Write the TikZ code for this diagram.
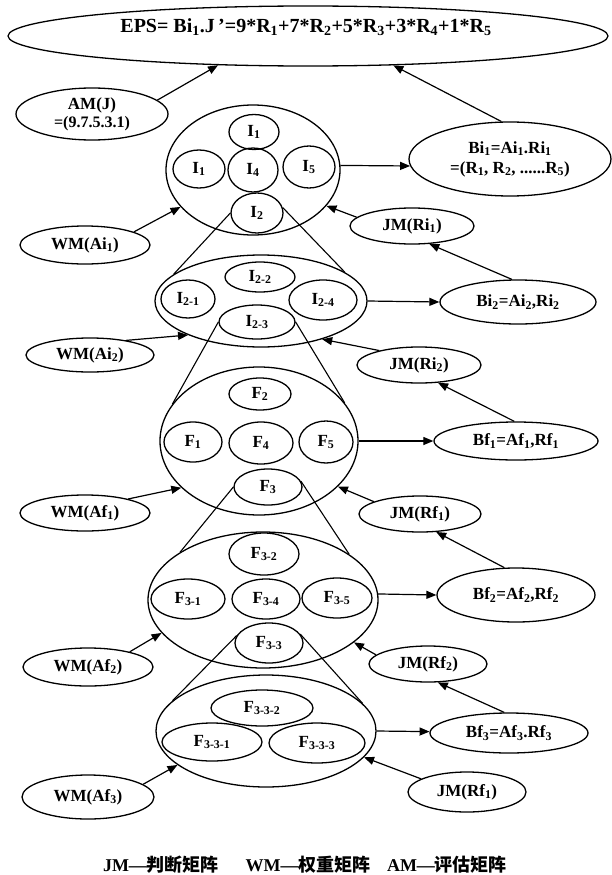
\documentclass[tikz,border=0pt]{standalone}
\usepackage{fontspec}
\setmainfont{Liberation Serif}
\newfontfamily\cjk{Noto Sans CJK SC}
\usetikzlibrary{shapes.geometric,arrows.meta}
\newcommand{\sbs}[1]{\textsubscript{#1}}
\begin{document}
\begin{tikzpicture}[x=1pt,y=-1pt,
  ov/.style={draw, ellipse, line width=1.3pt, inner sep=0pt, align=center,
    font=\bfseries\fontsize{17}{20}\selectfont},
  txt/.style={inner sep=0pt, font=\bfseries\fontsize{20}{24}\selectfont},
  leg/.style={inner sep=0pt, font=\bfseries\fontsize{18}{20}\selectfont},
  arr/.style={line width=1.2pt, -{Triangle[length=10pt,width=8pt]}},
  cone/.style={line width=1.1pt}]
\useasboundingbox (0,0) rectangle (612,875);

% top
\node[ov, minimum width=600pt, minimum height=60pt] (eps) at (308,36) {};
\node[txt] (epstext) at (306,27) {EPS= Bi\sbs{1}.J\,'=9*R\sbs{1}+7*R\sbs{2}+5*R\sbs{3}+3*R\sbs{4}+1*R\sbs{5}};
\node[ov, minimum width=152pt, minimum height=52pt] (amj) at (92,114) {AM(J)\\[-2pt]{\fontsize{16}{18}\selectfont =(9.7.5.3.1)}};

% level 1
\node[ov, minimum width=174pt, minimum height=130pt] (c1) at (253,170) {};
\node[ov, minimum width=50pt, minimum height=35pt] (i1t) at (254,132) {I\sbs{1}};
\node[ov, minimum width=52pt, minimum height=38pt] (i1l) at (199,169) {I\sbs{1}};
\node[ov, minimum width=50pt, minimum height=44pt] (i4) at (253,170) {I\sbs{4}};
\node[ov, minimum width=52pt, minimum height=42pt] (i5) at (309,167) {I\sbs{5}};
\node[ov, minimum width=52pt, minimum height=40pt] (i2) at (257,213) {I\sbs{2}};
\node[ov, minimum width=202pt, minimum height=74pt] (bi1) at (510,159) {Bi\sbs{1}=Ai\sbs{1}.Ri\sbs{1}\\=(R\sbs{1}, R\sbs{2}, ......R\sbs{5})};
\node[ov, minimum width=130pt, minimum height=38pt] (wm1) at (85,245) {WM(Ai\sbs{1})};
\node[ov, minimum width=124pt, minimum height=36pt] (jm1) at (412,226) {JM(Ri\sbs{1})};

% level 2
\node[ov, minimum width=212pt, minimum height=92pt] (c2) at (261,301) {};
\node[ov, minimum width=70pt, minimum height=30pt] (i22) at (260,277) {I\sbs{2-2}};
\node[ov, minimum width=54pt, minimum height=38pt] (i21) at (188,299) {I\sbs{2-1}};
\node[ov, minimum width=68pt, minimum height=40pt] (i24) at (323,300) {I\sbs{2-4}};
\node[ov, minimum width=76pt, minimum height=34pt] (i23) at (257,322) {I\sbs{2-3}};
\node[ov, minimum width=156pt, minimum height=44pt] (bi2) at (518,302) {Bi\sbs{2}=Ai\sbs{2},Ri\sbs{2}};
\node[ov, minimum width=128pt, minimum height=34pt] (wm2) at (90,355) {WM(Ai\sbs{2})};
\node[ov, minimum width=124pt, minimum height=36pt] (jm2) at (419,365) {JM(Ri\sbs{2})};

% level 3
\node[ov, minimum width=198pt, minimum height=148pt] (c3) at (259,441) {};
\node[ov, minimum width=62pt, minimum height=32pt] (f2) at (260,394) {F\sbs{2}};
\node[ov, minimum width=58pt, minimum height=40pt] (f1) at (193,442) {F\sbs{1}};
\node[ov, minimum width=64pt, minimum height=42pt] (f4) at (261,443) {F\sbs{4}};
\node[ov, minimum width=54pt, minimum height=42pt] (f5) at (326,442) {F\sbs{5}};
\node[ov, minimum width=68pt, minimum height=36pt] (f3) at (268,487) {F\sbs{3}};
\node[ov, minimum width=164pt, minimum height=38pt] (bf1) at (516,441) {Bf\sbs{1}=Af\sbs{1},Rf\sbs{1}};
\node[ov, minimum width=130pt, minimum height=36pt] (wmf1) at (85,513) {WM(Af\sbs{1})};
\node[ov, minimum width=122pt, minimum height=36pt] (jmf1) at (420,514) {JM(Rf\sbs{1})};

% level 4
\node[ov, minimum width=230pt, minimum height=136pt] (c4) at (263,600) {};
\node[ov, minimum width=70pt, minimum height=42pt] (f32) at (264,554) {F\sbs{3-2}};
\node[ov, minimum width=74pt, minimum height=40pt] (f31) at (188,599) {F\sbs{3-1}};
\node[ov, minimum width=68pt, minimum height=40pt] (f34) at (266,599) {F\sbs{3-4}};
\node[ov, minimum width=70pt, minimum height=40pt] (f35) at (337,598) {F\sbs{3-5}};
\node[ov, minimum width=68pt, minimum height=40pt] (f33) at (269,643) {F\sbs{3-3}};
\node[ov, minimum width=158pt, minimum height=54pt] (bf2) at (516,595) {Bf\sbs{2}=Af\sbs{2},Rf\sbs{2}};
\node[ov, minimum width=130pt, minimum height=38pt] (wmf2) at (88,667) {WM(Af\sbs{2})};
\node[ov, minimum width=118pt, minimum height=36pt] (jmf2) at (428,664) {JM(Rf\sbs{2})};

% level 5
\node[ov, minimum width=220pt, minimum height=112pt] (c5) at (266,731) {};
\node[ov, minimum width=102pt, minimum height=36pt] (f332) at (262,708) {F\sbs{3-3-2}};
\node[ov, minimum width=100pt, minimum height=38pt] (f331) at (212,742) {F\sbs{3-3-1}};
\node[ov, minimum width=96pt, minimum height=40pt] (f333) at (317,743) {F\sbs{3-3-3}};
\node[ov, minimum width=158pt, minimum height=40pt] (bf3) at (509,733) {Bf\sbs{3}=Af\sbs{3}.Rf\sbs{3}};
\node[ov, minimum width=132pt, minimum height=44pt] (wmf3) at (88,797) {WM(Af\sbs{3})};
\node[ov, minimum width=118pt, minimum height=40pt] (jmf1b) at (467,792) {JM(Rf\sbs{1})};

% legend
\node[leg] (leg1) at (161,865) {JM—{\cjk 判断矩阵}};
\node[leg] (leg2) at (308,865) {WM—{\cjk 权重矩阵}};
\node[leg] (leg3) at (447,865) {AM—{\cjk 评估矩阵}};

% cone lines
\draw[cone] (i2.180) -- (c2.163);
\draw[cone] (i2.12) -- (c2.19);
\draw[cone] (i23.180) -- (c3.157);
\draw[cone] (i23.0) -- (c3.24);
\draw[cone] (f3.180) -- (c4.150);
\draw[cone] (f3.10) -- (c4.28);
\draw[cone] (f33.167) -- (c5.162);
\draw[cone] (f33.16) -- (c5.16);

% arrows
\draw[arr] (amj.12) -- (eps.198);
\draw[arr] (bi1.103) -- (eps.341);
\draw[arr] (c1.3) -- (bi1.184);
\draw[arr] (wm1.15) -- (c1.207);
\draw[arr] (jm1.171) -- (c1.334);
\draw[arr] (bi2.105) -- (jm1.314);
\draw[arr] (c2.0) -- (bi2.180);
\draw[arr] (wm2.22) -- (c2.205);
\draw[arr] (jm2.160) -- (c2.328);
\draw[arr] (bf1.95) -- (jm2.317);
\draw[arr] (c3.0) -- (bf1.180);
\draw[arr] (wmf1.18) -- (c3.211);
\draw[arr] (jmf1.165) -- (c3.330);
\draw[arr] (bf2.113) -- (jmf1.312);
\draw[arr] (c4.3) -- (bf2.180);
\draw[arr] (wmf2.20) -- (c4.198);
\draw[arr] (jmf2.170) -- (c4.335);
\draw[arr] (bf3.103) -- (jmf2.298);
\draw[arr] (c5.0) -- (bf3.179);
\draw[arr] (wmf3.13) -- (c5.201);
\draw[arr] (jmf1b.164) -- (c5.345);
\end{tikzpicture}
\end{document}
